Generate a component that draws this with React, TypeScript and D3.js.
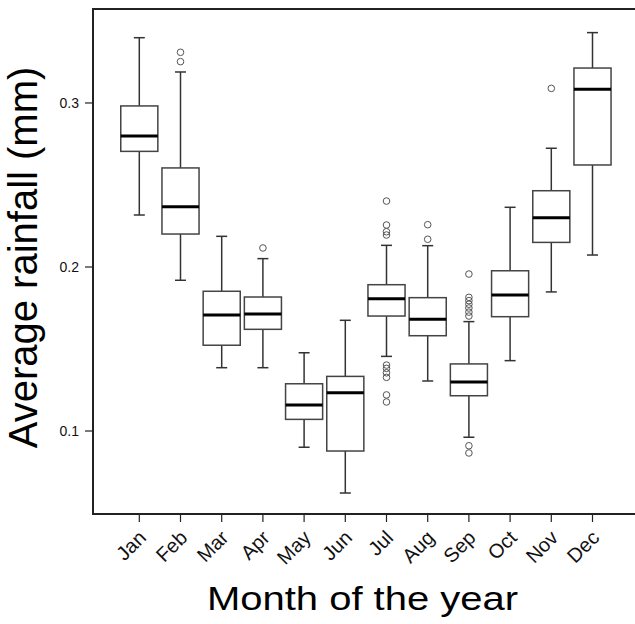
import React from "react";
import * as d3 from "d3";

const width = 635;
const height = 624;
const frame = { left: 93, right: 637, top: 9, bottom: 514 };

// monthly summary statistics
const months = ["Jan", "Feb", "Mar", "Apr", "May", "Jun", "Jul", "Aug", "Sep", "Oct", "Nov", "Dec"];
const whiskerLow = [0.2317, 0.1919, 0.1386, 0.1386, 0.0901, 0.0622, 0.1455, 0.1305, 0.0962, 0.1429, 0.1848, 0.2073];
const q1 = [0.2705, 0.2201, 0.1523, 0.162, 0.1071, 0.0878, 0.1701, 0.1581, 0.1215, 0.1697, 0.215, 0.2622];
const medians = [0.2799, 0.2368, 0.1707, 0.1713, 0.1159, 0.1234, 0.1807, 0.1681, 0.1299, 0.1829, 0.2301, 0.3084];
const q3 = [0.2982, 0.2604, 0.1852, 0.1817, 0.1288, 0.1333, 0.1892, 0.1813, 0.1409, 0.1977, 0.2465, 0.3213];
const whiskerHigh = [0.3398, 0.3189, 0.2187, 0.2051, 0.1477, 0.1675, 0.2132, 0.213, 0.1667, 0.2364, 0.2724, 0.3429];
const outliers = [
  [],
  [0.3309, 0.3252],
  [],
  [0.2116],
  [],
  [],
  [0.2402, 0.2256, 0.2215, 0.2195, 0.1402, 0.1382, 0.1355, 0.1327, 0.122, 0.1177],
  [0.2258, 0.2169],
  [0.1957, 0.1815, 0.1795, 0.1773, 0.175, 0.1725, 0.1701, 0.091, 0.0866],
  [],
  [0.3089],
  [],
];
const yTicks = [0.1, 0.2, 0.3];

const x = d3.scaleBand().domain(months).range([118.7, 613.1]).padding(0);
const y = d3.scaleLinear().domain([0.0494, 0.3573]).range([frame.bottom, frame.top]);

export default function App() {
  const bw = x.bandwidth() * 0.9;
  const cap = 11;
  const font = "'Liberation Sans', Arial, sans-serif";

  return (
    <svg
      width={width}
      height={height}
      style={{ position: "absolute", left: 0, top: 0, background: "#fff" }}
      fontFamily={font}
    >
      {months.map((m, i) => {
        const cx = x(m)! + x.bandwidth() / 2;
        return (
          <g key={m}>
            <line x1={cx} x2={cx} y1={y(q3[i])} y2={y(whiskerHigh[i])} stroke="#333" strokeWidth={1.5} />
            <line x1={cx} x2={cx} y1={y(q1[i])} y2={y(whiskerLow[i])} stroke="#333" strokeWidth={1.5} />
            <line x1={cx - cap / 2} x2={cx + cap / 2} y1={y(whiskerHigh[i])} y2={y(whiskerHigh[i])} stroke="#333" strokeWidth={1.5} />
            <line x1={cx - cap / 2} x2={cx + cap / 2} y1={y(whiskerLow[i])} y2={y(whiskerLow[i])} stroke="#333" strokeWidth={1.5} />
            <rect
              x={cx - bw / 2}
              y={y(q3[i])}
              width={bw}
              height={y(q1[i]) - y(q3[i])}
              fill="#fff"
              stroke="#444"
              strokeWidth={1.5}
            />
            <line x1={cx - bw / 2} x2={cx + bw / 2} y1={y(medians[i])} y2={y(medians[i])} stroke="#000" strokeWidth={3} />
            {outliers[i].map((v, j) => (
              <circle key={j} cx={cx} cy={y(v)} r={3.3} fill="none" stroke="#555" strokeWidth={1} />
            ))}
          </g>
        );
      })}

      {/* frame */}
      <path
        d={`M${frame.right},${frame.top}H${frame.left}V${frame.bottom}H${frame.right}`}
        fill="none"
        stroke="#222"
        strokeWidth={2}
      />

      {/* y axis */}
      {yTicks.map((t) => (
        <g key={t} transform={`translate(${frame.left},${y(t)})`}>
          <line x1={-8} x2={0} stroke="#222" strokeWidth={1.2} />
          <text x={-14} dy="0.35em" textAnchor="end" fontSize={14} fill="#111">
            {d3.format(".1f")(t)}
          </text>
        </g>
      ))}

      {/* x axis */}
      {months.map((m) => {
        const cx = x(m)! + x.bandwidth() / 2;
        return (
          <g key={m}>
            <line x1={cx} x2={cx} y1={frame.bottom} y2={frame.bottom + 8} stroke="#222" strokeWidth={1.2} />
            <text
              transform={`translate(${cx + 8},${frame.bottom + 25}) rotate(-45)`}
              textAnchor="end"
              fontSize={20}
              fill="#111"
            >
              {m}
            </text>
          </g>
        );
      })}

      <text
        transform={`translate(362.5,610) scale(1,0.85)`}
        textAnchor="middle"
        fontSize={40}
        fill="#000"
      >
        Month of the year
      </text>
      <text
        transform={`translate(37,257.5) rotate(-90)`}
        textAnchor="middle"
        fontSize={40}
        fill="#000"
      >
        Average rainfall (mm)
      </text>
    </svg>
  );
}
